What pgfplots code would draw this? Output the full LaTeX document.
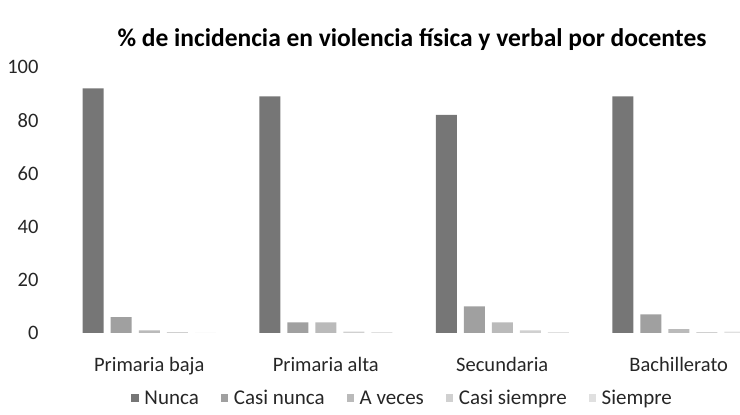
\documentclass[border=0pt]{standalone}
\usepackage{fontspec}
\setmainfont{Carlito}
\usepackage{pgfplots}
\pgfplotsset{compat=1.18}
\definecolor{cNunca}{HTML}{767676}
\definecolor{cCasiNunca}{HTML}{A0A0A0}
\definecolor{cAVeces}{HTML}{BABABA}
\definecolor{cCasiSiempre}{HTML}{D0D0D0}
\definecolor{cSiempre}{HTML}{E0E0E0}
\pgfplotsset{sqlegend/.style={legend image code/.code={\fill[##1] (0pt,-3.5pt) rectangle (7.5pt,4pt); \path (11pt,0pt);}}}
\begin{document}
\begin{tikzpicture}[x=1pt,y=1pt]
\useasboundingbox (0,0) rectangle (740,415);
\begin{axis}[
  at={(61pt,82pt)}, scale only axis, width=706pt, height=266pt,
  ymin=0, ymax=100, xmin=-0.5, xmax=3.5,
  ytick={0,20,...,100},
  xtick={0,1,2,3},
  xticklabels={Primaria baja, Primaria alta, Secundaria, Bachillerato},
  ybar=7pt, bar width=21pt,
  axis line style={draw=none}, tick style={draw=none},
  ticklabel style={font=\fontsize{20.5}{22}\selectfont, text=black!85},
  yticklabel style={xshift=-19pt},
  xticklabel style={yshift=-16pt},
  /pgf/number format/assume math mode=true,
  clip=false,
  legend style={at={(0.484,-0.245)}, anchor=center, draw=none, fill=none,
    legend columns=-1, font=\fontsize{21}{23}\selectfont, text=black!85,
    /tikz/every even column/.append style={column sep=20pt}},
  legend cell align=left,
]
\addplot[fill=cNunca, draw=none, sqlegend] coordinates {(0,92) (1,89) (2,82) (3,89)};
\addplot[fill=cCasiNunca, draw=none, sqlegend] coordinates {(0,6) (1,4) (2,10) (3,7)};
\addplot[fill=cAVeces, draw=none, sqlegend] coordinates {(0,1) (1,4) (2,4) (3,1.5)};
\addplot[fill=cCasiSiempre, draw=none, sqlegend] coordinates {(0,0.3) (1,0.5) (2,1) (3,0.3)};
\addplot[fill=cSiempre, draw=none, sqlegend] coordinates {(0,0) (1,0.3) (2,0.3) (3,0.5)};
\legend{Nunca, Casi nunca, A veces, Casi siempre, Siempre}
\end{axis}
\node[font=\fontsize{25.5}{28}\selectfont\bfseries] at (412,375) {\% de incidencia en violencia física y verbal por docentes};
\end{tikzpicture}
\end{document}
